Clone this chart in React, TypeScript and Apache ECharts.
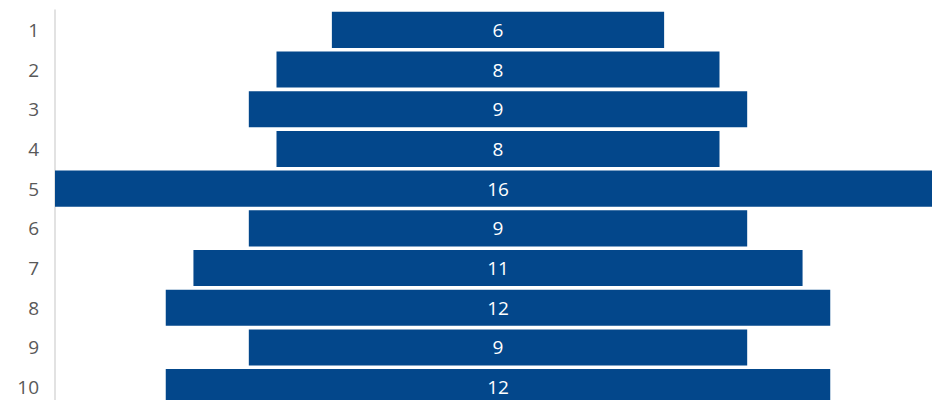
import React, { useEffect, useRef } from "react";
import * as echarts from "echarts";

const categories = ["1", "2", "3", "4", "5", "6", "7", "8", "9", "10"];
const values = [6, 8, 9, 8, 16, 9, 11, 12, 9, 12];
const maxValue = 16;

export default function App() {
  const ref = useRef<HTMLDivElement>(null);
  useEffect(() => {
    if (!ref.current) return;
    const chart = echarts.init(ref.current, undefined, { renderer: "svg" });
    const offsets = values.map((v) => (maxValue - v) / 2);
    chart.setOption({
      animation: false,
      grid: { left: 55, right: 0, top: 10, bottom: 0 },
      xAxis: { type: "value", min: 0, max: maxValue, show: false },
      yAxis: {
        type: "category",
        data: categories,
        inverse: true,
        axisTick: { show: false },
        axisLine: { show: true, lineStyle: { color: "#d9d9d9", width: 1.5 } },
        axisLabel: {
          color: "#595959",
          fontSize: 19,
          fontFamily: "Open Sans",
          margin: 16,
        },
      },
      series: [
        {
          type: "bar",
          stack: "s",
          data: offsets,
          itemStyle: { color: "transparent" },
          silent: true,
          barCategoryGap: "9%",
        },
        {
          type: "bar",
          stack: "s",
          data: values,
          barCategoryGap: "9%",
          itemStyle: { color: "#03478b" },
          label: {
            show: true,
            position: "inside",
            color: "#ffffff",
            fontSize: 19,
            fontFamily: "Open Sans",
          },
        },
      ],
    });
    return () => chart.dispose();
  }, []);
  return (
    <div style={{ position: "absolute", left: 0, top: 0, width: 932, height: 400, overflow: "hidden", background: "#fff" }}>
      <div ref={ref} style={{ width: 941, height: 407 }} />
    </div>
  );
}
